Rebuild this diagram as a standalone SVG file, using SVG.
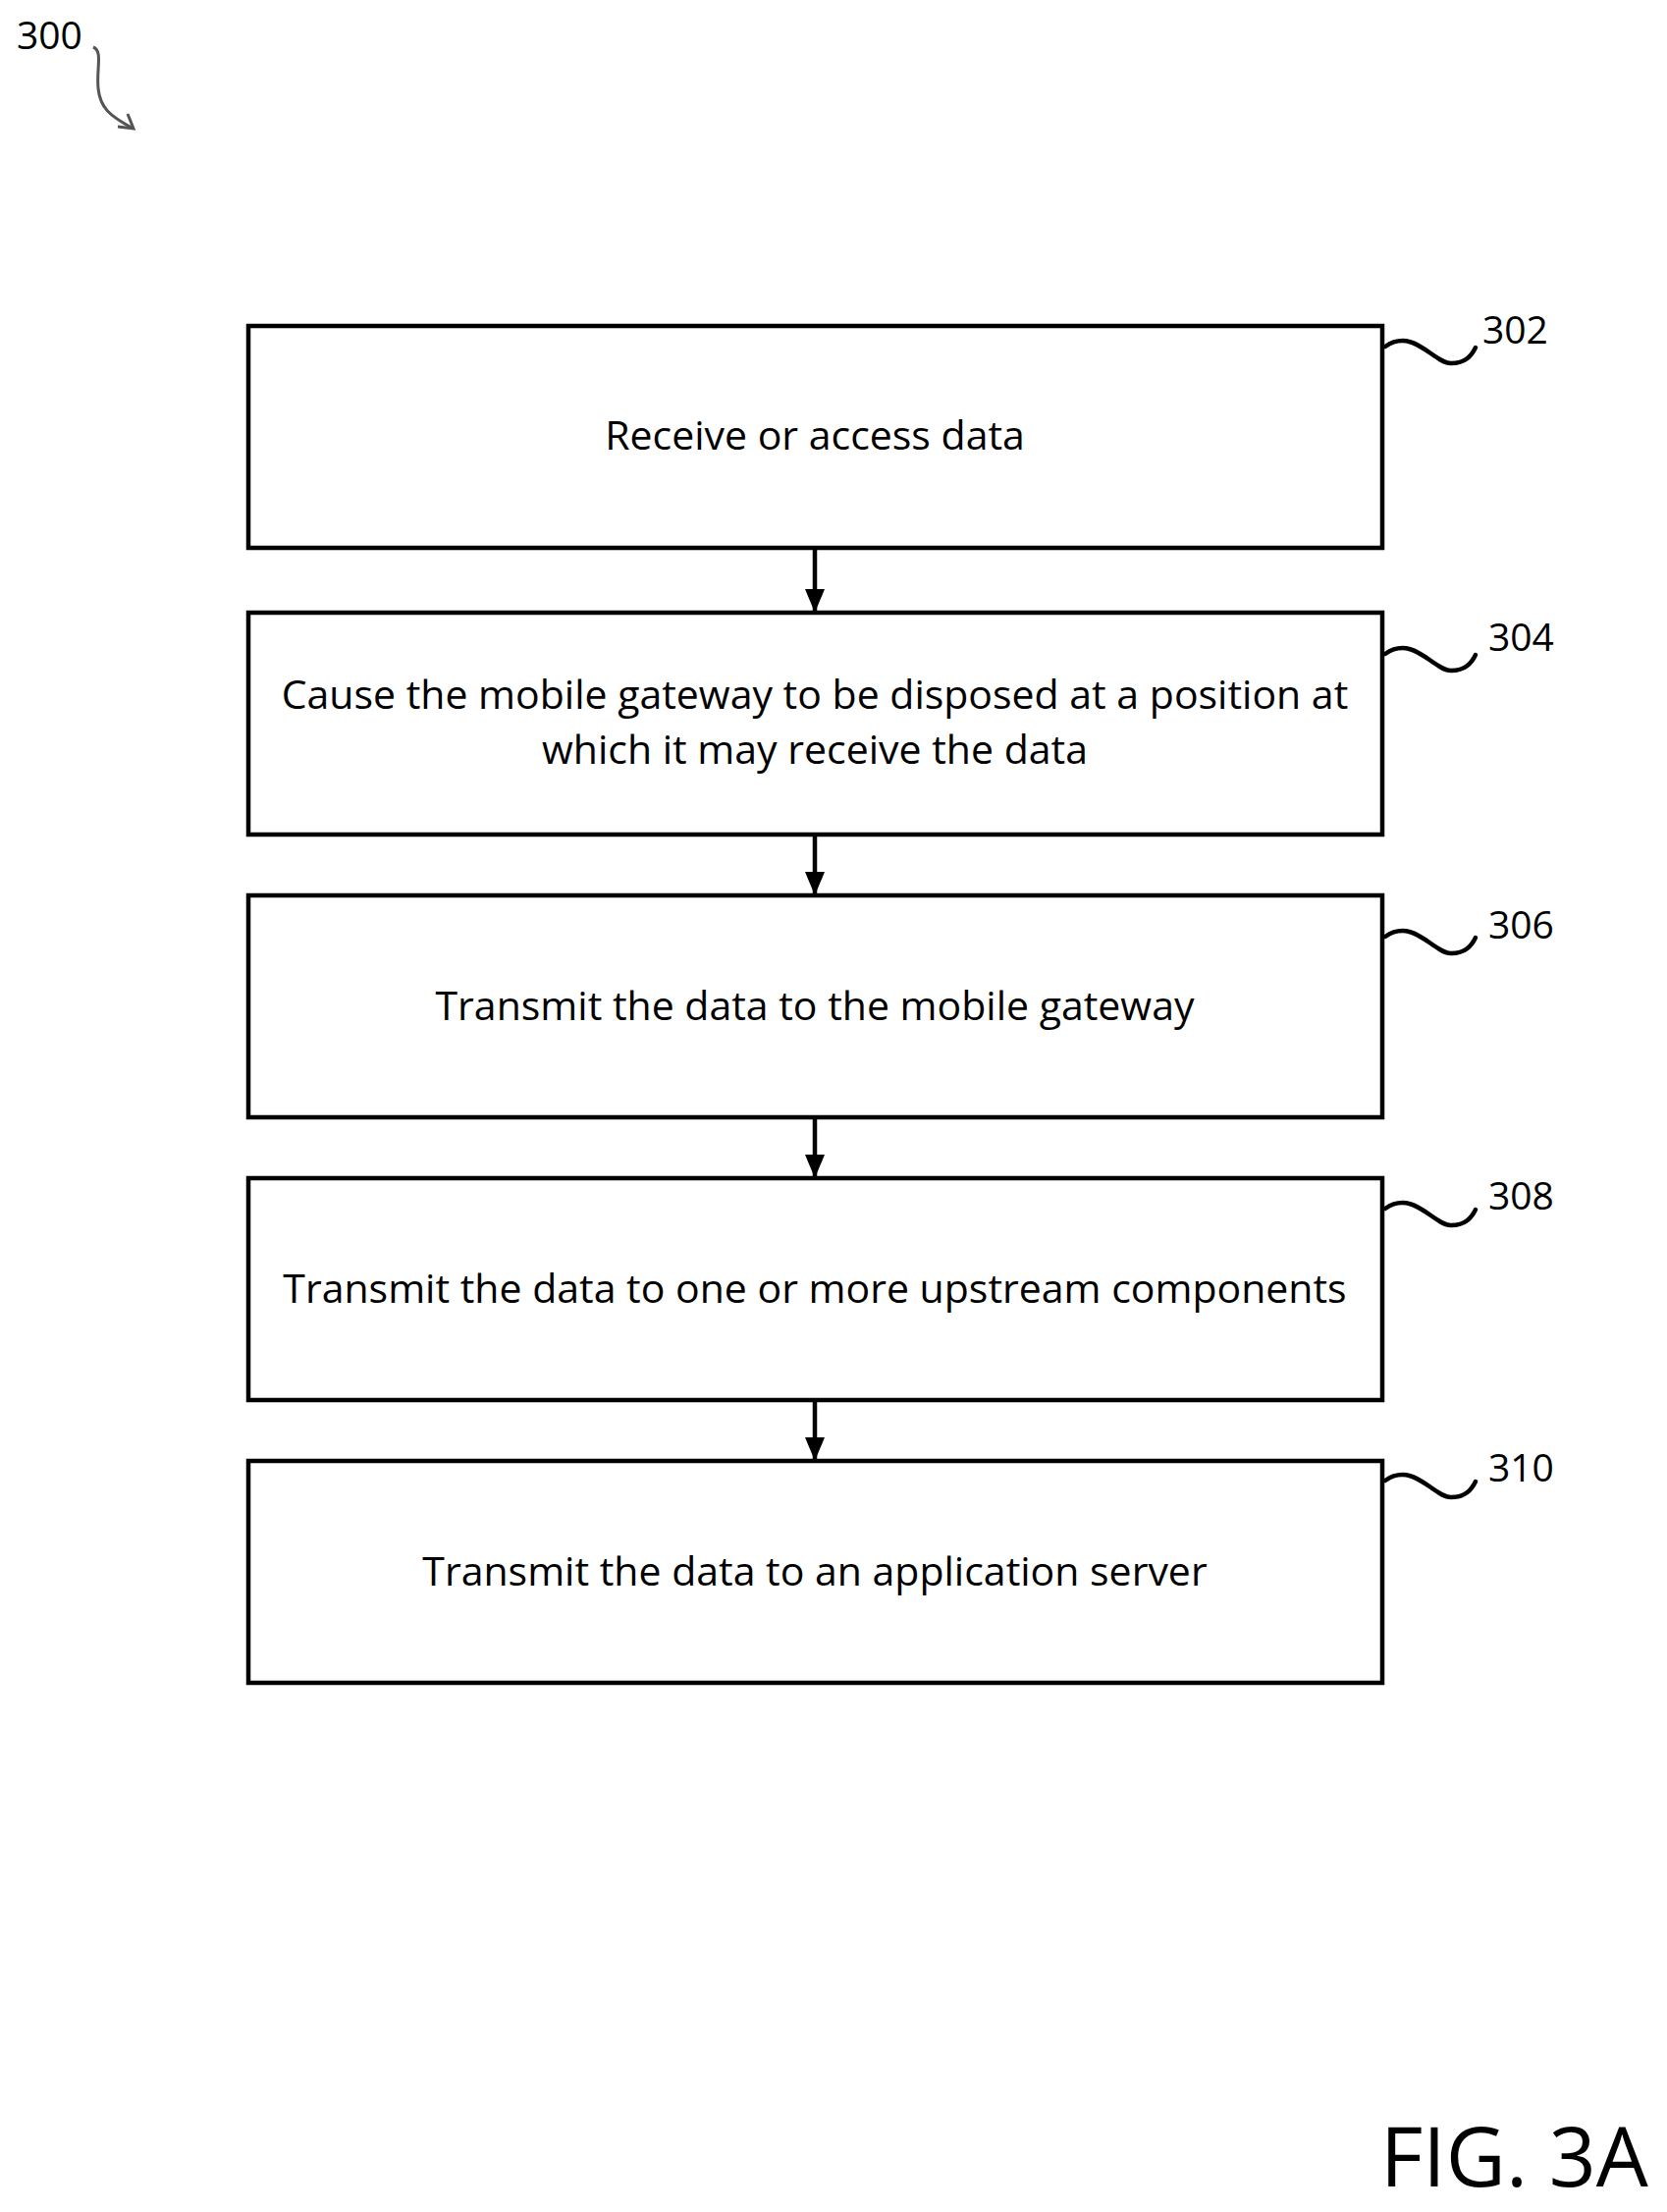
<svg xmlns="http://www.w3.org/2000/svg" width="1698" height="2253" viewBox="0 0 1698 2253">
<defs>
<style>
.box{fill:#fff;stroke:#000;stroke-width:4.5}
.t{font-family:"Open Sans","Liberation Sans",sans-serif;font-size:41px;fill:#000;text-anchor:middle}
.lbl{font-family:"Open Sans","Liberation Sans",sans-serif;font-size:39px;fill:#000}
.sq{fill:none;stroke:#000;stroke-width:4.5;stroke-linecap:round}
.c{stroke:#000;stroke-width:4.5;fill:none}
</style>
<marker id="ah" markerWidth="24" markerHeight="24" refX="22" refY="12" orient="auto" markerUnits="userSpaceOnUse" viewBox="0 0 24 24">
<path d="M0,2 L24,12 L0,22 z" fill="#000"/>
</marker>
</defs>
<rect width="1698" height="2253" fill="#fff"/>
<text class="lbl" x="17" y="50">300</text>
<path d="M95,48 C105,52 98,70 100,90 C102,110 112,118 134,130" fill="none" stroke="#555" stroke-width="3"/>
<path d="M120,129 L136,131 L130,116" fill="none" stroke="#555" stroke-width="3"/>
<g id="n302">
<rect class="box" x="253" y="332" width="1155" height="226"/>
<text class="t" x="830" y="458">Receive or access data</text>
<path class="sq" d="M1411,353 C1440,333 1460,370 1478,370 C1493,370 1499,362 1503,354"/>
<text class="lbl" x="1510" y="350">302</text>
</g>
<g id="n304">
<rect class="box" x="253" y="624" width="1155" height="226"/>
<text class="t" x="830" y="722">Cause the mobile gateway to be disposed at a position at</text>
<text class="t" x="830" y="778">which it may receive the data</text>
<path class="sq" d="M1411,666 C1440,646 1460,683 1478,683 C1493,683 1499,675 1503,667"/>
<text class="lbl" x="1516" y="663">304</text>
</g>
<g id="n306">
<rect class="box" x="253" y="912" width="1155" height="226"/>
<text class="t" x="830" y="1039">Transmit the data to the mobile gateway</text>
<path class="sq" d="M1411,954 C1440,934 1460,971 1478,971 C1493,971 1499,963 1503,955"/>
<text class="lbl" x="1516" y="956">306</text>
</g>
<g id="n308">
<rect class="box" x="253" y="1200" width="1155" height="226"/>
<text class="t" x="830" y="1327">Transmit the data to one or more upstream components</text>
<path class="sq" d="M1411,1231 C1440,1211 1460,1248 1478,1248 C1493,1248 1499,1240 1503,1232"/>
<text class="lbl" x="1516" y="1232">308</text>
</g>
<g id="n310">
<rect class="box" x="253" y="1488" width="1155" height="226"/>
<text class="t" x="830" y="1615">Transmit the data to an application server</text>
<path class="sq" d="M1411,1508 C1440,1488 1460,1525 1478,1525 C1493,1525 1499,1517 1503,1509"/>
<text class="lbl" x="1516" y="1509">310</text>
</g>
<g id="connectors">
<line class="c" x1="830" y1="558" x2="830" y2="622" marker-end="url(#ah)"/>
<line class="c" x1="830" y1="850" x2="830" y2="910" marker-end="url(#ah)"/>
<line class="c" x1="830" y1="1138" x2="830" y2="1198" marker-end="url(#ah)"/>
<line class="c" x1="830" y1="1426" x2="830" y2="1486" marker-end="url(#ah)"/>
</g>
<text x="1406" y="2227" font-family="'Open Sans','Liberation Sans',sans-serif" font-size="84" fill="#000">FIG. 3A</text>
</svg>
